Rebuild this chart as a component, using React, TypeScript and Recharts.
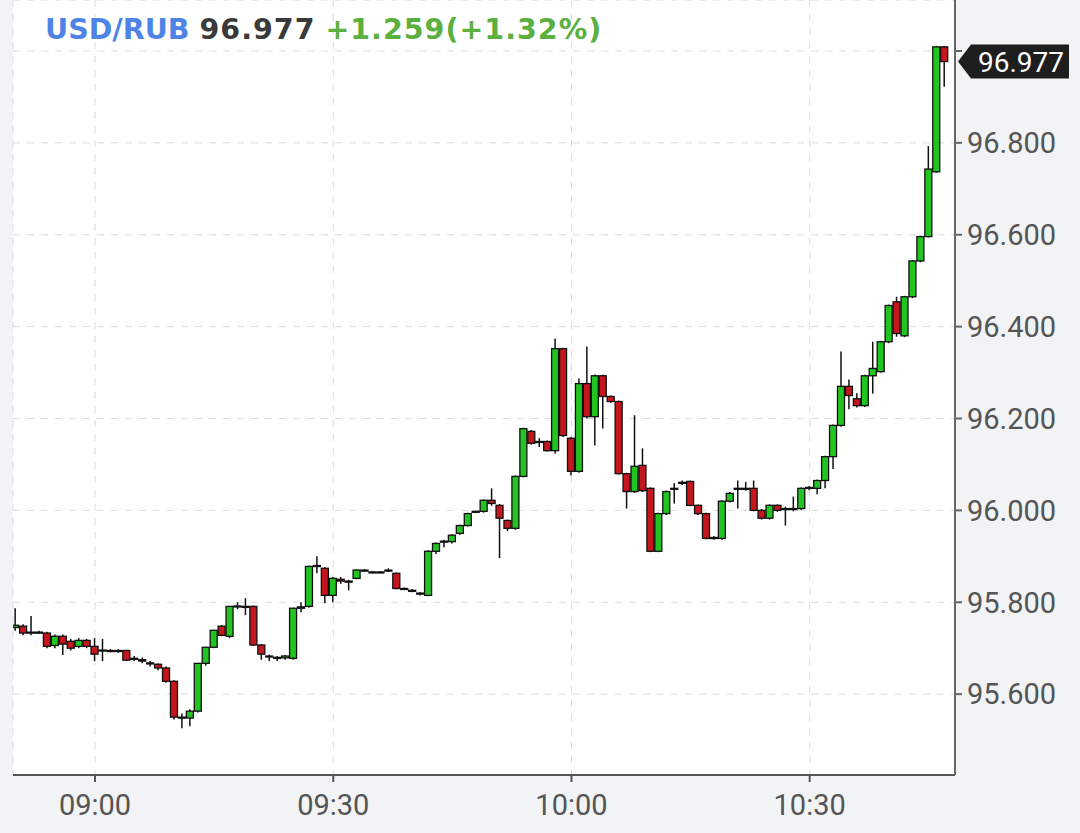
import React from 'react';
import { ComposedChart, Bar, XAxis, YAxis, CartesianGrid, ReferenceLine } from 'recharts';

// minutes counted from 09:00, first candle is 08:50
const FIRST_MINUTE = -10;

const opens = [
  95.745, 95.748, 95.735, 95.734, 95.733, 95.706, 95.726, 95.715, 95.704, 95.717,
  95.704, 95.696, 95.695, 95.695, 95.695, 95.678, 95.675, 95.668, 95.665, 95.657,
  95.628, 95.55, 95.548, 95.563, 95.667, 95.702, 95.748, 95.726, 95.791, 95.791,
  95.791, 95.707, 95.683, 95.68, 95.679, 95.678, 95.787, 95.791, 95.878, 95.874,
  95.815, 95.85, 95.846, 95.852, 95.87, 95.866, 95.866, 95.87, 95.863, 95.83,
  95.826, 95.82, 95.815, 95.911, 95.932, 95.932, 95.95, 95.967, 95.997, 95.998,
  96.022, 96.011, 95.978, 95.961, 96.074, 96.172, 96.15, 96.15, 96.13, 96.352,
  96.157, 96.085, 96.276, 96.204, 96.293, 96.248, 96.237, 96.08, 96.041, 96.098,
  96.048, 95.911, 95.993, 96.048, 96.061, 96.063, 96.011, 95.993, 95.941, 95.939,
  96.02, 96.048, 96.048, 96.048, 96.0, 95.983, 96.011, 96.004, 96.004, 96.004,
  96.048, 96.048, 96.065, 96.117, 96.185, 96.27, 96.243, 96.228, 96.293, 96.302,
  96.367, 96.454, 96.38, 96.465, 96.543, 96.596, 96.737, 97.009,
];

const highs = [
  95.787, 95.752, 95.77, 95.738, 95.736, 95.73, 95.73, 95.72, 95.722, 95.72,
  95.722, 95.72, 95.698, 95.698, 95.697, 95.683, 95.68, 95.672, 95.667, 95.66,
  95.63, 95.558, 95.567, 95.668, 95.703, 95.74, 95.75, 95.792, 95.8, 95.809,
  95.793, 95.709, 95.686, 95.683, 95.685, 95.788, 95.8, 95.88, 95.9, 95.876,
  95.855, 95.855, 95.849, 95.872, 95.872, 95.868, 95.868, 95.874, 95.865, 95.832,
  95.829, 95.822, 95.913, 95.93, 95.936, 95.948, 95.969, 95.995, 95.999, 96.024,
  96.048, 96.014, 95.98, 96.076, 96.18, 96.175, 96.157, 96.152, 96.374, 96.354,
  96.16, 96.287, 96.357, 96.296, 96.295, 96.25, 96.239, 96.082, 96.207, 96.135,
  96.05, 95.995, 96.043, 96.059, 96.065, 96.065, 96.013, 95.995, 95.944, 96.022,
  96.04, 96.065, 96.062, 96.065, 96.003, 96.013, 96.013, 96.008, 96.03, 96.05,
  96.053, 96.067, 96.119, 96.187, 96.346, 96.285, 96.255, 96.295, 96.367, 96.369,
  96.448, 96.465, 96.467, 96.545, 96.598, 96.793, 97.011, 97.011,
];

const lows = [
  95.738, 95.728, 95.728, 95.731, 95.7, 95.7, 95.685, 95.695, 95.7, 95.7,
  95.672, 95.672, 95.691, 95.69, 95.672, 95.672, 95.667, 95.66, 95.652, 95.625,
  95.545, 95.526, 95.53, 95.56, 95.662, 95.7, 95.726, 95.722, 95.785, 95.772,
  95.705, 95.675, 95.672, 95.672, 95.675, 95.675, 95.778, 95.788, 95.863, 95.798,
  95.8, 95.84, 95.826, 95.85, 95.867, 95.864, 95.863, 95.866, 95.828, 95.827,
  95.822, 95.815, 95.813, 95.905, 95.92, 95.928, 95.947, 95.965, 95.994, 95.995,
  96.01, 95.896, 95.955, 95.958, 96.072, 96.143, 96.138, 96.128, 96.124, 96.16,
  96.076, 96.082, 96.2, 96.141, 96.178, 96.234, 96.078, 96.004, 96.038, 96.04,
  95.909, 95.909, 95.99, 96.015, 96.055, 96.009, 95.99, 95.937, 95.936, 95.936,
  96.017, 96.004, 96.043, 95.998, 95.98, 95.98, 95.997, 95.967, 95.998, 96.001,
  96.044, 96.035, 96.048, 96.09, 96.182, 96.22, 96.224, 96.225, 96.254, 96.3,
  96.364, 96.378, 96.377, 96.462, 96.54, 96.594, 96.735, 96.922,
];

const closes = [
  95.75, 95.733, 95.734, 95.735, 95.704, 95.726, 95.709, 95.7, 95.717, 95.704,
  95.687, 95.694, 95.695, 95.694, 95.674, 95.677, 95.672, 95.666, 95.657, 95.628,
  95.55, 95.549, 95.563, 95.667, 95.702, 95.739, 95.728, 95.791, 95.792, 95.79,
  95.707, 95.687, 95.682, 95.679, 95.683, 95.787, 95.79, 95.878, 95.88, 95.815,
  95.852, 95.846, 95.845, 95.87, 95.869, 95.866, 95.865, 95.869, 95.83, 95.829,
  95.826, 95.818, 95.911, 95.928, 95.933, 95.946, 95.967, 95.993, 95.998, 96.022,
  96.015, 95.983, 95.961, 96.074, 96.178, 96.146, 96.148, 96.13, 96.352, 96.163,
  96.085, 96.276, 96.204, 96.293, 96.248, 96.237, 96.08, 96.041, 96.096, 96.043,
  95.911, 95.993, 96.041, 96.046, 96.06, 96.011, 95.993, 95.939, 95.939, 96.02,
  96.037, 96.046, 96.046, 96.0, 95.983, 96.011, 96.0, 96.002, 96.004, 96.048,
  96.05, 96.065, 96.117, 96.185, 96.27, 96.25, 96.228, 96.293, 96.309, 96.367,
  96.446, 96.385, 96.465, 96.543, 96.596, 96.743, 97.009, 96.977,
];

const timeTicks = [0, 30, 60, 90];
const timeLabels = ['09:00', '09:30', '10:00', '10:30'];
const priceTicks = [95.6, 95.8, 96.0, 96.2, 96.4, 96.6, 96.8, 97.0];

const symbol = 'USD/RUB';
const lastPrice = 96.977;
const change = '+1.259';
const changePct = '(+1.32%)';

const data = opens.map((o, i) => ({
  t: FIRST_MINUTE + i,
  open: o,
  high: highs[i],
  low: lows[i],
  close: closes[i],
  range: [lows[i], highs[i]],
}));

const UP = '#22c422';
const DOWN = '#c4161c';

const Candle = (props: any) => {
  const { x, y, width, height, payload } = props;
  if (!payload) return null;
  const top = Math.min(y, y + height);
  const span = Math.abs(height);
  const { open, close, high, low } = payload;
  const ratio = high === low ? 0 : span / (high - low);
  const py = (p: number) => top + (high - p) * ratio;
  const bodyTop = py(Math.max(open, close));
  const bodyH = Math.max(py(Math.min(open, close)) - bodyTop, 1);
  const cx = x + width / 2;
  return (
    <g>
      <line x1={cx} x2={cx} y1={top} y2={top + span} stroke="#111" strokeWidth={1.5} />
      <rect
        x={x}
        y={bodyTop}
        width={width}
        height={bodyH}
        fill={close >= open ? UP : DOWN}
        stroke="#111"
        strokeWidth={1.3}
      />
    </g>
  );
};

// dark tag with the last price, pointing at the right axis
const PriceTag = ({ viewBox }: any) => {
  if (!viewBox) return null;
  const x = viewBox.x + viewBox.width + 3;
  const y = viewBox.y;
  return (
    <g>
      <path
        d={`M${x} ${y} L${x + 13} ${y - 17} L${x + 111} ${y - 17} L${x + 111} ${y + 17} L${x + 13} ${y + 17} Z`}
        fill="#1e1e1e"
      />
      <text x={x + 63} y={y} dy="0.36em" textAnchor="middle" fill="#fff" fontSize={28} fontFamily="Roboto">
        {lastPrice.toFixed(3)}
      </text>
    </g>
  );
};

const tickFont = { fontSize: 29, fontFamily: 'Roboto', fill: '#555' };

// the 97.000 label sits under the price tag, so only its tick line shows
const PriceTick = ({ x, y, payload }: any) => {
  if (!payload || Math.abs(payload.value - lastPrice) < 0.05) return null;
  return (
    <text x={x} y={y} dy="0.355em" textAnchor="start" {...tickFont}>
      {Number(payload.value).toFixed(3)}
    </text>
  );
};

export default function App() {
  return (
    <div style={{ position: 'absolute', left: 0, top: 0, width: 1080, height: 833, background: '#f2f3f5' }}>
      <ComposedChart width={1080} height={833} data={data} margin={{ top: 0, right: 5, bottom: 8, left: 13 }}>
        <CartesianGrid yAxisId="p" fill="#fff" stroke="#dcdcdc" strokeDasharray="7 7" />
        <XAxis
          dataKey="t"
          type="number"
          domain={[-10.33, 108.3]}
          allowDataOverflow
          ticks={timeTicks}
          tickFormatter={(v: number) => timeLabels[timeTicks.indexOf(v)] ?? ''}
          height={50}
          axisLine={{ stroke: '#555', strokeWidth: 2 }}
          tickLine={{ stroke: '#555', strokeWidth: 2 }}
          tickSize={7}
          tickMargin={12}
          tick={tickFont}
        />
        <YAxis
          yAxisId="l"
          orientation="left"
          width={0}
          domain={[95.424, 97.111]}
          allowDataOverflow
          tick={false}
          tickLine={false}
          axisLine={{ stroke: '#444', strokeWidth: 2 }}
        />
        <YAxis
          yAxisId="p"
          orientation="right"
          width={120}
          domain={[95.424, 97.111]}
          allowDataOverflow
          ticks={priceTicks}
          axisLine={{ stroke: '#666', strokeWidth: 2 }}
          tickLine={{ stroke: '#666', strokeWidth: 2 }}
          tickSize={7}
          tickMargin={5}
          tick={<PriceTick />}
        />
        <Bar dataKey="range" yAxisId="p" barSize={7} shape={Candle} isAnimationActive={false} />
        <ReferenceLine yAxisId="p" y={lastPrice} stroke="none" label={<PriceTag />} />
      </ComposedChart>
      <div
        style={{
          position: 'absolute',
          left: 45,
          top: 13,
          fontFamily: 'DejaVu Sans',
          fontWeight: 'bold',
          fontSize: 28.5,
          whiteSpace: 'nowrap',
        }}
      >
        <span style={{ color: '#4d84e6' }}>{symbol}</span>{' '}
        <span style={{ color: '#3a3a3a', letterSpacing: 1 }}>{lastPrice.toFixed(3)}</span>{' '}
        <span style={{ color: '#5bb040', letterSpacing: 1 }}>
          {change}
          {changePct}
        </span>
      </div>
    </div>
  );
}
